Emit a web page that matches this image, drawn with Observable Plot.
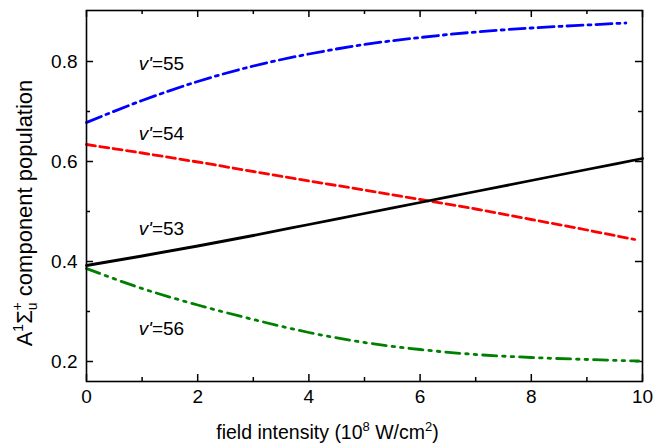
<!DOCTYPE html>
<html>
<head>
<meta charset="utf-8">
<script src="https://cdn.jsdelivr.net/npm/d3@7"></script>
<script src="https://cdn.jsdelivr.net/npm/@observablehq/plot@0.6"></script>
<style>
  html, body { margin: 0; padding: 0; background: #fff; }
  #chart svg { display: block; }
</style>
</head>
<body>
<div id="chart"></div>
<script>
// ---- data ----
const x53 = [0, 1, 2, 3, 4, 5, 6, 7, 8, 9, 10];
const v53 = [0.392, 0.411, 0.431, 0.452, 0.474, 0.496, 0.518, 0.540, 0.562, 0.584, 0.606];

const x54 = [0, 1, 2, 3, 4, 5, 6, 7, 8, 9, 9.86];
const v54 = [0.634, 0.617, 0.599, 0.580, 0.561, 0.543, 0.524, 0.505, 0.484, 0.463, 0.444];

const x55 = [0, 1, 2, 3, 4, 5, 6, 7, 8, 9, 9.7];
const v55 = [0.678, 0.722, 0.760, 0.791, 0.815, 0.834, 0.848, 0.859, 0.867, 0.873, 0.877];

const x56 = [0, 1, 2, 3, 4, 5, 6, 7, 8, 9, 9.93];
const v56 = [0.386, 0.346, 0.313, 0.284, 0.258, 0.238, 0.224, 0.214, 0.208, 0.204, 0.201];

const labelNames = ["55", "54", "53", "56"];
const labelX = [0.94, 0.94, 0.94, 0.94];
const labelY = [0.795, 0.655, 0.465, 0.265];

const xMajor = [0, 2, 4, 6, 8, 10];
const xMinor = [1, 3, 5, 7, 9];
const yMajor = [0.2, 0.4, 0.6, 0.8];
const yMinor = [0.3, 0.5, 0.7];

const xTitle = "field intensity (10^8 W/cm^2)";
const yTitle = "A^1Σ_u^+ component population";

// ---- layout ----
const W = 655, H = 447;
const mL = 86, mR = 13, mT = 10, mB = 66;
const pw = W - mL - mR, ph = H - mT - mB;
const major = 7, minor = 4;

const toRows = (xs, ys) => xs.map((x, i) => ({x, y: ys[i]}));
const labels = labelNames.map((n, i) => ({name: n, x: labelX[i], y: labelY[i]}));

const font = "'Liberation Sans', Arial, sans-serif";

const chart = Plot.plot({
  width: W, height: H,
  marginLeft: mL, marginRight: mR, marginTop: mT, marginBottom: mB,
  style: {fontFamily: font, fontSize: "19px", color: "#000", background: "#fff"},
  x: {domain: [0, 10], ticks: xMajor, tickFormat: d => String(d)},
  y: {domain: [0.16, 0.902], ticks: yMajor, tickFormat: d => d.toFixed(1)},
  marks: [
    Plot.axisX(xMajor, {tickSize: 0, tickPadding: 8, fontSize: 19, label: null}),
    Plot.axisY(yMajor, {tickSize: 0, tickPadding: 9, fontSize: 19, label: null, tickFormat: d => d.toFixed(1)}),
    // inward ticks, bottom and top
    Plot.ruleX(xMajor, {insetTop: ph - major, strokeWidth: 1.5}),
    Plot.ruleX(xMinor, {insetTop: ph - minor, strokeWidth: 1.5}),
    Plot.ruleX(xMajor, {insetBottom: ph - major, strokeWidth: 1.5}),
    Plot.ruleX(xMinor, {insetBottom: ph - minor, strokeWidth: 1.5}),
    // inward ticks, left and right
    Plot.ruleY(yMajor, {insetRight: pw - major, strokeWidth: 1.5}),
    Plot.ruleY(yMinor, {insetRight: pw - minor, strokeWidth: 1.5}),
    Plot.ruleY(yMajor, {insetLeft: pw - major, strokeWidth: 1.5}),
    Plot.ruleY(yMinor, {insetLeft: pw - minor, strokeWidth: 1.5}),
    // curves
    Plot.line(toRows(x55, v55), {x: "x", y: "y", stroke: "#0000ff", strokeWidth: 2.8, curve: "monotone-x", strokeDasharray: "16,5,3,5"}),
    Plot.line(toRows(x54, v54), {x: "x", y: "y", stroke: "#ff0000", strokeWidth: 2.8, curve: "monotone-x", strokeDasharray: "9,4.5"}),
    Plot.line(toRows(x53, v53), {x: "x", y: "y", stroke: "#000000", strokeWidth: 2.8, curve: "monotone-x"}),
    Plot.line(toRows(x56, v56), {x: "x", y: "y", stroke: "#008000", strokeWidth: 2.8, curve: "monotone-x", strokeDasharray: "14,6,2.5,6,2.5,6"}),
    // curve labels
    Plot.text(labels, {x: "x", y: "y", text: d => "v'=" + d.name, textAnchor: "start", fontSize: 19, fill: "#000"}),
    // axis titles
    Plot.text([xTitle], {frameAnchor: "bottom", text: d => d, textAnchor: "middle", fontSize: 19.5, dx: -37, dy: 57, fill: "#000"}),
    Plot.text([yTitle], {frameAnchor: "left", text: d => d, textAnchor: "middle", rotate: -90, fontSize: 22, dx: -62, dy: 17, fill: "#000"}),
    Plot.frame({stroke: "#000", strokeWidth: 1.6})
  ]
});

document.getElementById("chart").appendChild(chart);

// ---- rich text (italic, super/subscripts) ----
const svg = d3.select(chart);
function rich(textSel, parts) {
  textSel.text(null);
  for (const p of parts) {
    const t = textSel.append("tspan").text(p.t);
    if (p.italic) t.attr("font-style", "italic");
    if (p.size) t.attr("font-size", p.size);
    if (p.dy != null) t.attr("dy", p.dy);
    if (p.dx != null) t.attr("dx", p.dx);
  }
}
svg.selectAll("text").each(function () {
  const s = d3.select(this);
  const txt = s.text();
  if (txt.startsWith("v'=")) {
    rich(s, [{t: "v'", italic: true}, {t: txt.slice(2)}]);
  } else if (txt === xTitle) {
    rich(s, [
      {t: "field intensity (10"},
      {t: "8", size: 13, dy: -8},
      {t: " W/cm", dy: 8},
      {t: "2", size: 13, dy: -8},
      {t: ")", dy: 8}
    ]);
  } else if (txt === yTitle) {
    rich(s, [
      {t: "A"},
      {t: "1", size: 14, dy: -9},
      {t: "Σ", dy: 9},
      {t: "u", size: 14, dy: 5},
      {t: "+", size: 14, dy: -15, dx: -8},
      {t: " component population", dy: 10}
    ]);
  }
});
</script>
</body>
</html>
